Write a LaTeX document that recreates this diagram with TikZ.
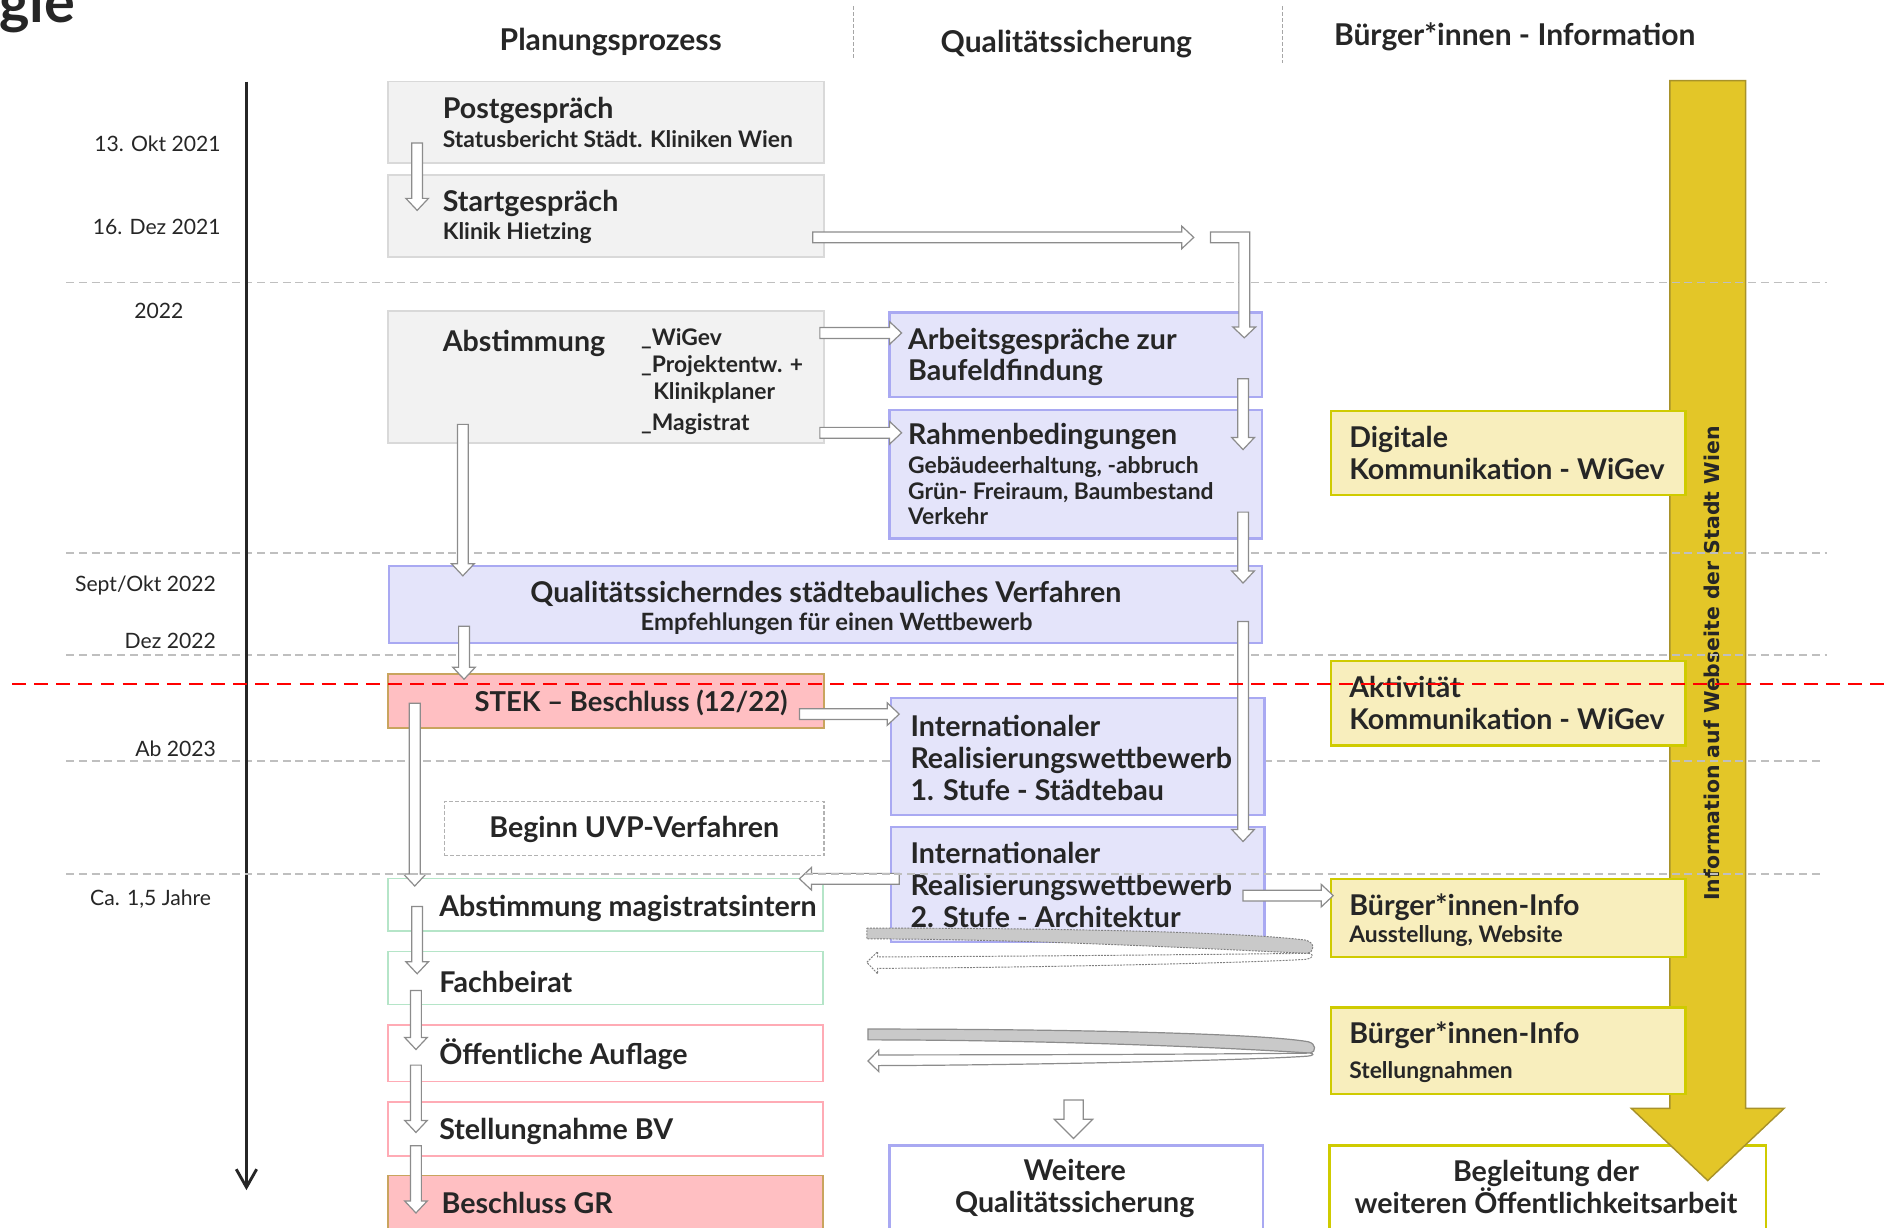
\documentclass[tikz,border=0pt]{standalone}
\usepackage{fontspec}
\setmainfont{Lato}
\newfontfamily\dvs{DejaVu Sans}
\usetikzlibrary{arrows.meta,calc}
\definecolor{txt}{HTML}{262626}
\definecolor{gfill}{HTML}{F2F2F2}
\definecolor{gline}{HTML}{D9D9D9}
\definecolor{lfill}{HTML}{E4E4FA}
\definecolor{lline}{HTML}{A9A9F2}
\definecolor{pfill}{HTML}{FFBFC2}
\definecolor{pline}{HTML}{C9A45E}
\definecolor{grline}{HTML}{B5E5C8}
\definecolor{pkline}{HTML}{FFABB5}
\definecolor{yfill}{HTML}{F8EEBD}
\definecolor{yline}{HTML}{CFCB00}
\definecolor{yarrow}{HTML}{E3C628}
\definecolor{yarrowl}{HTML}{A8922A}
\definecolor{dashg}{HTML}{BFBFBF}
\definecolor{arrg}{HTML}{8C8C8C}
\definecolor{cg}{HTML}{C9C9C9}
\newcommand\fbig{\fontsize{11.9}{13.3}\selectfont\bfseries}
\newcommand\fstek{\fontsize{11.4}{13.3}\selectfont\bfseries}
\newcommand\fsub{\fontsize{9.5}{10.5}\selectfont\bfseries}
\newcommand\fsubl{\fontsize{9.9}{11}\selectfont\bfseries}
\newcommand\fhead{\fontsize{12.5}{14}\selectfont\bfseries}
\newcommand\fdate{\fontsize{8.8}{10.5}\selectfont}
\newcommand\fweb{\dvs\bfseries\fontsize{8.5}{10}\selectfont}
\def\bsw{2.25pt}\def\bhw{4.7pt}\def\bhl{5pt}
\newcommand\barrow[2]{%
  \draw[barr] let \p1=#1, \p2=#2, \n1={atan2(\y2-\y1,\x2-\x1)}, \n2={veclen(\x2-\x1,\y2-\y1)} in
    [shift={(\p1)}, rotate=\n1]
    (0pt,-\bsw) -- ({\n2*1pt-\bhl},-\bsw) -- ({\n2*1pt-\bhl},-\bhw) -- ({\n2*1pt},0pt)
    -- ({\n2*1pt-\bhl},\bhw) -- ({\n2*1pt-\bhl},\bsw) -- (0pt,\bsw) -- cycle;}
\tikzset{
  every node/.style={text=txt, inner sep=0pt},
  boxbase/.style={anchor=north west, line width=0.6pt},
  gbox/.style={boxbase, draw=gline, fill=gfill},
  lbox/.style={boxbase, draw=lline, fill=lfill, line width=0.9pt},
  lwbox/.style={boxbase, draw=lline, fill=white, line width=0.9pt},
  pbox/.style={boxbase, draw=pline, fill=pfill, line width=0.8pt},
  grbox/.style={boxbase, draw=grline, fill=white},
  pkbox/.style={boxbase, draw=pkline, fill=white},
  dbox/.style={boxbase, draw=gray!60, dash pattern=on 1.5pt off 1pt, fill=white},
  ybox/.style={boxbase, draw=yline, fill=yfill, line width=1pt},
  ywbox/.style={boxbase, draw=yline, fill=white, line width=1pt},
  txtl/.style={anchor=west, align=left, font=\fbig},
  txtc/.style={anchor=center, align=center, font=\fbig},
  txtm/.style={anchor=mid west, font=\fbig},
  date/.style={anchor=mid east, font=\fdate},
  head/.style={anchor=mid, font=\fhead},
  hline/.style={draw=dashg, line width=0.8pt, dash pattern=on 3.3pt off 2pt},
  sepl/.style={draw=gray!70, line width=0.5pt, dash pattern=on 1.5pt off 1pt},
  barr/.style={draw=arrg, fill=white, line width=0.5pt, line join=miter},
  cband/.style={draw=arrg, fill=cg, line width=0.5pt},
  cwhite/.style={draw=arrg, fill=white, line width=0.5pt},
}
\begin{document}
\begin{tikzpicture}[x=0.5pt,y=-0.5pt]
\useasboundingbox (0,0) rectangle (1568,1021);
\clip (0,0) rectangle (1568,1021);

% title fragment and headers
\node[anchor=base west, font=\fontsize{24}{24}\selectfont\bfseries] (title) at (-1,19) {gie};
\node[head] (h1) at (508,37) {Planungsprozess};
\node[head] (h2) at (887,39) {Qualitätssicherung};
\node[head] (h3) at (1260,33) {Bürger*innen - Information};
\draw[sepl] (710,5) -- (710,50);
\draw[sepl] (1067,5) -- (1067,52);

% dates
\node[date] (d1) at (184,121) {13. Okt 2021};
\node[date] (d2) at (184,190) {16. Dez 2021};
\node[date] (d3) at (153,260) {2022};
\node[date] (d4) at (180,487) {Sept/Okt 2022};
\node[date] (d5) at (180,534) {Dez 2022};
\node[date] (d6) at (180,624) {Ab 2023};
\node[date] (d7) at (176,748) {Ca. 1,5 Jahre};

% bottom right box (under big arrow)
\node[ywbox, minimum width=181.5pt, minimum height=40pt] (begl) at (1105,952) {};
\node[txtc] (beglT) at (1286,987) {Begleitung der\\weiteren Öffentlichkeitsarbeit};

% big yellow arrow
\draw[fill=yarrow, draw=yarrowl, line width=0.6pt, line join=miter]
  (1389,67) -- (1452,67) -- (1452,922) -- (1484,922) -- (1420.5,982) -- (1357,922) -- (1389,922) -- cycle;
\node[rotate=90, font=\fweb] (web) at (1424,552) {Information auf Webseite der Stadt Wien};

% horizontal dashed lines
\draw[hline] (55,235) -- (1520,235);
\draw[hline] (55,460) -- (1520,460);
\draw[hline] (55,545) -- (1520,545);
\draw[hline] (55,633) -- (1515,633);

% timeline
\coordinate (tl0) at (205,68);
\coordinate (tl1) at (205,990);
\draw[line width=1.2pt, draw=txt, -{Straight Barb[length=7.5pt,width=8.5pt]}] (tl0) -- (tl1);

% Planungsprozess column
\node[gbox, minimum width=181.5pt, minimum height=34pt] (post) at (322,67) {};
\node[txtl] (postT) at ([xshift=23pt]post.west) {Postgespräch\\[-1.3pt]\fsub Statusbericht Städt. Kliniken Wien};
\node[gbox, minimum width=181.5pt, minimum height=34pt] (start) at (322,145) {};
\node[txtl] (startT) at ([xshift=23pt,yshift=-0.5pt]start.west) {Startgespräch\\[-1.8pt]\fsub Klinik Hietzing};
\node[gbox, minimum width=181.5pt, minimum height=55pt] (abst) at (322,258) {};
\node[txtm] (abstT) at (368,287) {Abstimmung};
\node[txtm, font=\fsub] (l1) at (533,282) {\_WiGev};
\node[txtm, font=\fsub] (l2) at (533,305) {\_Projektentw. +};
\node[txtm, font=\fsub] (l3) at (543,327) {Klinikplaner};
\node[txtm, font=\fsub] (l4) at (533,353) {\_Magistrat};

\node[lbox, minimum width=363pt, minimum height=32pt] (qsv) at (323,470) {};
\node[txtc] (qsvT) at ([yshift=-1.5pt]qsv.center) {Qualitätssicherndes städtebauliches Verfahren\\[-1.8pt]\hspace*{9pt}\fsubl Empfehlungen für einen Wettbewerb};

\node[pbox, minimum width=181.5pt, minimum height=22.5pt] (stek) at (322,560) {};
\node[txtc, font=\fstek] (stekT) at (525,585) {STEK – Beschluss (12/22)};
\node[dbox, minimum width=158pt, minimum height=22.5pt] (uvp) at (369,666) {};
\node[txtc] (uvpT) at ([yshift=-0.5pt]uvp.center) {Beginn UVP-Verfahren};

\node[grbox, minimum width=181pt, minimum height=22pt] (amag) at (322,730) {};
\node[txtl] (amagT) at ([xshift=21.5pt,yshift=-1.5pt]amag.west) {Abstimmung magistratsintern};
\node[grbox, minimum width=181pt, minimum height=22pt] (fach) at (322,791) {};
\node[txtl] (fachT) at ([xshift=21.5pt,yshift=-1.5pt]fach.west) {Fachbeirat};
\node[pkbox, minimum width=181pt, minimum height=23.5pt] (oeff) at (322,852) {};
\node[txtl] (oeffT) at ([xshift=21.5pt,yshift=-0.5pt]oeff.west) {Öffentliche Auflage};
\node[pkbox, minimum width=181pt, minimum height=22.5pt] (stbv) at (322,916) {};
\node[txtl] (stbvT) at ([xshift=21.5pt,yshift=-1pt]stbv.west) {Stellungnahme BV};
\node[pbox, minimum width=181pt, minimum height=30pt] (grb) at (322,977) {};
\node[txtm] (grbT) at (367,1004) {Beschluss GR};

% Qualitaetssicherung column
\node[lbox, minimum width=155pt, minimum height=35pt] (arb) at (739,259) {};
\node[txtl] (arbT) at ([xshift=8pt,yshift=-1pt]arb.west) {Arbeitsgespräche zur\\[-0.3pt]Baufeldfindung};
\node[lbox, minimum width=155pt, minimum height=53.5pt] (rahm) at (739,340) {};
\node[txtl] (rahmT) at ([xshift=8pt]rahm.west) {Rahmenbedingungen\\[-1.3pt]\fsub Gebäudeerhaltung, -abbruch\\[-2.5pt]\fsub Grün- Freiraum, Baumbestand\\[-3pt]\fsub Verkehr};
\node[lbox, minimum width=155.5pt, minimum height=48.5pt] (irw1) at (740,580) {};
\node[txtl] (irw1T) at ([xshift=8.5pt,yshift=-0.5pt]irw1.west) {Internationaler\\Realisierungswettbewerb\\1. Stufe - Städtebau};
\node[lbox, minimum width=155.5pt, minimum height=48pt] (irw2) at (740,687) {};
\node[txtl] (irw2T) at ([xshift=8.5pt]irw2.west) {Internationaler\\Realisierungswettbewerb\\2. Stufe - Architektur};
\node[lwbox, minimum width=155.5pt, minimum height=40pt] (wqs) at (739,952) {};
\node[txtc] (wqsT) at (894,989) {Weitere\\Qualitätssicherung};

% Buerger column
\node[ybox, minimum width=147.5pt, minimum height=35pt] (dig) at (1106,341) {};
\node[txtl] (digT) at ([xshift=8pt]dig.west) {Digitale\\Kommunikation - WiGev};
\node[ybox, minimum width=147.5pt, minimum height=35pt] (akt) at (1106,549) {};
\node[txtl] (aktT) at ([xshift=8pt]akt.west) {Aktivität\\Kommunikation - WiGev};
\node[ybox, minimum width=147.5pt, minimum height=32.5pt] (bi1) at (1106,730) {};
\node[txtl] (bi1T) at ([xshift=8pt,yshift=-1pt]bi1.west) {Bürger*innen-Info\\[-1.8pt]\fsub Ausstellung, Website};
\node[ybox, minimum width=147.5pt, minimum height=36pt] (bi2) at (1106,837) {};
\node[txtl] (bi2T) at ([xshift=8pt,yshift=-0.5pt]bi2.west) {Bürger*innen-Info\\[1.2pt]\fsub Stellungnahmen};

% connector end points
\coordinate (a1s) at (347,119);   \coordinate (a1e) at (347,175);
\coordinate (a2s) at (676,197.5); \coordinate (a2e) at (993,197.5);
\coordinate (a4s) at (682,277);   \coordinate (a4e) at (750,277);
\coordinate (a5s) at (682,360);   \coordinate (a5e) at (750,360);
\coordinate (a6s) at (1034,315);  \coordinate (a6e) at (1034,374);
\coordinate (a7s) at (1034,426);  \coordinate (a7e) at (1034,485);
\coordinate (a8s) at (385,353);   \coordinate (a8e) at (385,479);
\coordinate (a9s) at (386,521);   \coordinate (a9e) at (386,565);
\coordinate (a10s) at (1034,517); \coordinate (a10e) at (1034,700);
\coordinate (a11s) at (665,594);  \coordinate (a11e) at (748,594);
\coordinate (a12s) at (345,585);  \coordinate (a12e) at (345,737);
\coordinate (a13s) at (748,731);  \coordinate (a13e) at (665,731);
\coordinate (a14s) at (1034,745); \coordinate (a14e) at (1109,745);
\coordinate (a15s) at (347,754);  \coordinate (a15e) at (347,810);
\coordinate (a16s) at (346,824);  \coordinate (a16e) at (346,873);
\coordinate (a17s) at (346,886);  \coordinate (a17e) at (346,942);
\coordinate (a18s) at (346,953);  \coordinate (a18e) at (346,1009);
\coordinate (a19s) at (893,915);  \coordinate (a19e) at (893,947);

\barrow{(a1s)}{(a1e)}
\barrow{(a2s)}{(a2e)}
\barrow{(a4s)}{(a4e)}
\barrow{(a5s)}{(a5e)}
\barrow{(a6s)}{(a6e)}
\barrow{(a7s)}{(a7e)}
\barrow{(a8s)}{(a8e)}
\barrow{(a9s)}{(a9e)}
\barrow{(a10s)}{(a10e)}
\barrow{(a11s)}{(a11e)}
\barrow{(a12s)}{(a12e)}
\barrow{(a13s)}{(a13e)}
\barrow{(a14s)}{(a14e)}
\barrow{(a15s)}{(a15e)}
\barrow{(a16s)}{(a16e)}
\barrow{(a17s)}{(a17e)}
\barrow{(a18s)}{(a18e)}
\begingroup
\def\bsw{4pt}\def\bhw{8pt}\def\bhl{8pt}
\barrow{(a19s)}{(a19e)}
\endgroup

% elbow arrow from Startgespraech arrow to Arbeitsgespraeche
\draw[barr] (1007,193) -- (1039.5,193) -- (1039.5,272) -- (1044.5,272) -- (1035,281)
  -- (1025.5,272) -- (1030.5,272) -- (1030.5,202) -- (1007,202) -- cycle;

% U-turn arrows
\draw[cband, draw=gray, line width=0.4pt, dash pattern=on 0.8pt off 0.5pt] (721,772) .. controls (900,772) and (1040,776) .. (1086,782)
  .. controls (1094,784) and (1094,792) .. (1087,793)
  .. controls (1000,789) and (850,781) .. (721,781) -- cycle;
\draw[cwhite, draw=gray, line width=0.4pt, dash pattern=on 0.8pt off 0.5pt] (1089,793) .. controls (1000,794) and (850,795.5) .. (730,796)
  -- (730,791.6) -- (721,800.5) -- (730,810) -- (730,805.5)
  .. controls (850,805) and (1040,801) .. (1086,798)
  .. controls (1093,797) and (1093,794) .. (1089,793) -- cycle;
\draw[cband] (722,856) .. controls (900,856) and (1050,860) .. (1088,866.5)
  .. controls (1095,868) and (1095,875) .. (1090,876)
  .. controls (1000,870) and (850,865) .. (722,865) -- cycle;
\draw[cwhite] (1090,876) .. controls (1000,877) and (850,877.5) .. (731,877.5)
  -- (731,873.4) -- (722,882.6) -- (731,891.4) -- (731,886.4)
  .. controls (850,886) and (1040,882) .. (1088,878.5)
  .. controls (1093,878) and (1093,876.5) .. (1090,876) -- cycle;

% dashed line on top
\draw[hline] (55,727) -- (1515,727);

% red dashed line
\draw[red, line width=1.1pt, dash pattern=on 5.8pt off 3.4pt] (10,569) -- (1568,569);
\end{tikzpicture}
\end{document}
